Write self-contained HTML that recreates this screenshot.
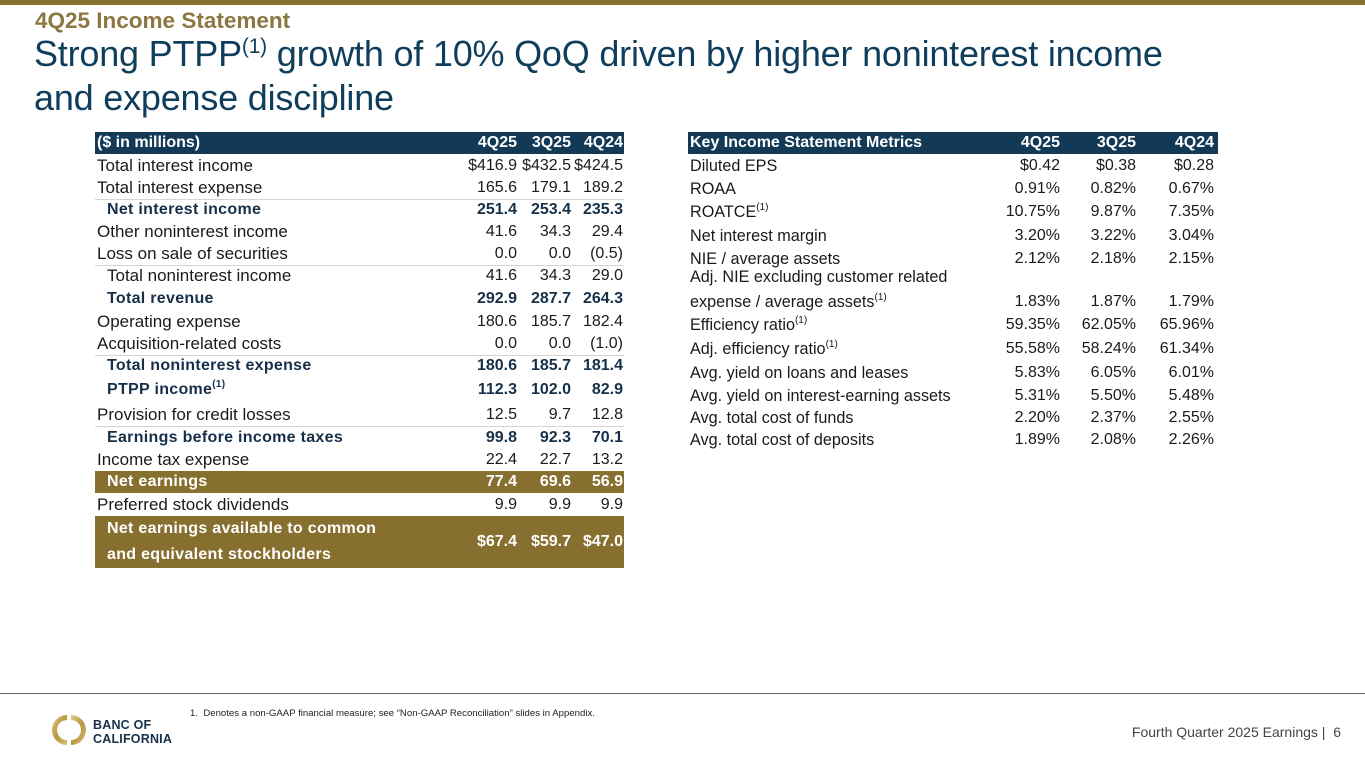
<!DOCTYPE html>
<html><head><meta charset="utf-8">
<style>
*{margin:0;padding:0;box-sizing:border-box}
body{width:1365px;height:768px;position:relative;background:#fff;font-family:"Liberation Sans",Arial,sans-serif;overflow:hidden;color:#1a1a1a}
.abs{position:absolute}
.row{position:absolute;height:22px;font-size:16px;line-height:22px;white-space:nowrap}
.row span{position:absolute;top:0}
.c{text-align:right;width:80px}
.b{font-weight:bold;color:#17304a}
.hd{background:#123a57;color:#fff;font-weight:bold}
.gold{background:#87702f;color:#fff;font-weight:bold}
.sep{position:absolute;height:1px;background:#d4d4d4}
sup{font-size:10px;line-height:0;vertical-align:7px}
</style></head><body>
<div class="abs" style="left:0;top:0;width:1365px;height:5px;background:#87702f"></div>
<div class="abs" style="left:35px;top:8px;font-size:22.5px;font-weight:bold;color:#8c7740">4Q25 Income Statement</div>
<div class="abs" style="left:34px;top:32px;font-size:36px;line-height:44px;color:#0f3e5c;width:1320px;letter-spacing:-0.2px">Strong PTPP<sup style="font-size:21px;vertical-align:13px">(1)</sup> growth of 10% QoQ driven by higher noninterest income<br>and expense discipline</div>

<div id="left"></div>
<div id="right"></div>

<div class="abs" style="left:0;top:693px;width:1365px;height:1px;background:#5b6266"></div>
<div class="abs" style="left:190px;top:708px;font-size:9.6px;color:#222">1.&nbsp; Denotes a non-GAAP financial measure; see “Non-GAAP Reconciliation” slides in Appendix.</div>
<div class="abs" style="right:24px;top:724px;font-size:14px;color:#444">Fourth Quarter 2025 Earnings |&nbsp; 6</div>
<div class="abs" style="left:52px;top:713px;width:34px;height:34px">
<svg width="34" height="34" viewBox="0 0 34 34"><defs><linearGradient id="g" x1="0" y1="0" x2="1" y2="1"><stop offset="0" stop-color="#e2cf8f"/><stop offset="0.5" stop-color="#b8973e"/><stop offset="1" stop-color="#d9c27a"/></linearGradient></defs>
<path d="M15 2 A15 15 0 0 0 15 32 L15 27 A10 10 0 0 1 15 7 Z" fill="url(#g)"/><path d="M19 2 A15 15 0 0 1 19 32 L19 27 A10 10 0 0 0 19 7 Z" fill="url(#g)"/></svg></div>
<div class="abs" style="left:93px;top:718px;font-size:12.5px;line-height:14px;font-weight:bold;color:#17304a;letter-spacing:0.2px">BANC OF<br>CALIFORNIA</div>

<script>
// [label, 4Q25, 3Q25, 4Q24, centerY, style, sepBelow]
const leftRows = [
 ["($ in millions)","4Q25","3Q25","4Q24",143,"hd",0],
 ["Total interest income","$416.9","$432.5","$424.5",166,"",0],
 ["Total interest expense","165.6","179.1","189.2",188,"",1],
 ["Net interest income","251.4","253.4","235.3",210,"b",0],
 ["Other noninterest income","41.6","34.3","29.4",232,"",0],
 ["Loss on sale of securities","0.0","0.0","(0.5)",254,"",1],
 ["Total noninterest income","41.6","34.3","29.0",276,"i",0],
 ["Total revenue","292.9","287.7","264.3",299,"b",0],
 ["Operating expense","180.6","185.7","182.4",322,"",0],
 ["Acquisition-related costs","0.0","0.0","(1.0)",344,"",1],
 ["Total noninterest expense","180.6","185.7","181.4",366,"b",0],
 ["PTPP income<sup>(1)</sup>","112.3","102.0","82.9",390,"b",0],
 ["Provision for credit losses","12.5","9.7","12.8",415,"",1],
 ["Earnings before income taxes","99.8","92.3","70.1",438,"b",0],
 ["Income tax expense","22.4","22.7","13.2",460,"",0],
 ["Net earnings","77.4","69.6","56.9",482,"gold",0],
 ["Preferred stock dividends","9.9","9.9","9.9",505,"",0],
 ["Net earnings available to common<br>and equivalent stockholders","$67.4","$59.7","$47.0",542,"goldbig",0]
];
const rightRows = [
 ["Key Income Statement Metrics","4Q25","3Q25","4Q24",143,"hd"],
 ["Diluted EPS","$0.42","$0.38","$0.28",166,""],
 ["ROAA","0.91%","0.82%","0.67%",189,""],
 ["ROATCE<sup>(1)</sup>","10.75%","9.87%","7.35%",212,""],
 ["Net interest margin","3.20%","3.22%","3.04%",236,""],
 ["NIE / average assets","2.12%","2.18%","2.15%",259,""],
 ["Adj. NIE excluding customer related","","","",277,""],
 ["expense / average assets<sup>(1)</sup>","1.83%","1.87%","1.79%",302,""],
 ["Efficiency ratio<sup>(1)</sup>","59.35%","62.05%","65.96%",325,""],
 ["Adj. efficiency ratio<sup>(1)</sup>","55.58%","58.24%","61.34%",349,""],
 ["Avg. yield on loans and leases","5.83%","6.05%","6.01%",373,""],
 ["Avg. yield on interest-earning assets","5.31%","5.50%","5.48%",396,""],
 ["Avg. total cost of funds","2.20%","2.37%","2.55%",418,""],
 ["Avg. total cost of deposits","1.89%","2.08%","2.26%",440,""]
];
const leftCols=[517,571,623], rightCols=[1060,1136,1214];
function build(container, rows, x0, w, cols, prefix, labelSize){
  rows.forEach((r,i)=>{
    const d=document.createElement('div');
    d.className='row';
    
    
    let h=22, st=r[5];
    if(st==='goldbig'){h=52;d.style.lineHeight='26px';}
    d.style.left=x0+'px'; d.style.width=w+'px';
    d.style.top=(r[4]-h/2)+'px'; d.style.height=h+'px';
    if(st==='hd') d.classList.add('hd');
    if(st==='gold'||st==='goldbig') d.classList.add('gold');
    if(st==='b') d.classList.add('b');
    const indent = (st==='b'||st==='i'||st==='gold'||st==='goldbig')?12:2;
    const lab=document.createElement('span');
    
    
    lab.style.left=indent+'px';
    if(st===''||st==='i') lab.style.fontSize=labelSize+'px';
    if(st==='goldbig'){lab.style.letterSpacing='0.3px';}
    if(st==='b'||st==='gold'){lab.style.letterSpacing='0.3px';}
    lab.innerHTML=r[0];
    d.appendChild(lab);
    for(let k=0;k<3;k++){
      const v=document.createElement('span');
      v.className='c';
      
      
      v.style.left=(cols[k]-x0-80)+'px';
      if(st==='goldbig'){v.style.top='13px';}
      v.textContent=r[k+1];
      d.appendChild(v);
    }
    container.appendChild(d);
    if(r[6]){
      const s=document.createElement('div');
      s.className='sep';
      
      
      s.style.left=x0+'px'; s.style.width=w+'px'; s.style.top=(r[4]+11)+'px';
      container.appendChild(s);
    }
  });
}
build(document.getElementById('left'),leftRows,95,529,leftCols,'income',17);
build(document.getElementById('right'),rightRows,688,530,rightCols,'metric',16.2);
</script>
</body></html>
